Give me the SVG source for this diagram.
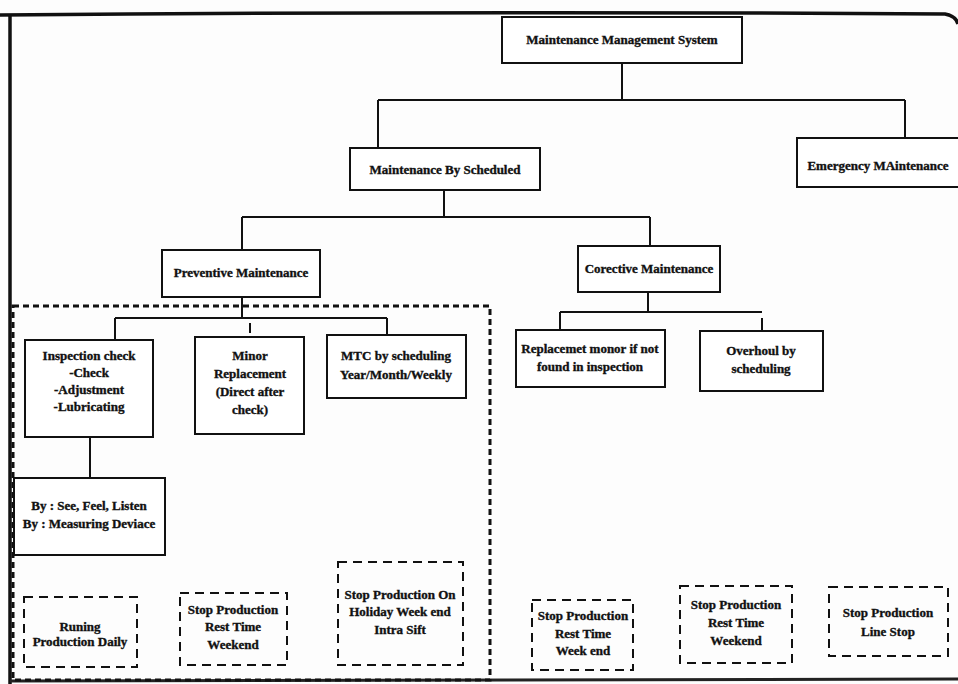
<svg xmlns="http://www.w3.org/2000/svg" width="958" height="684" viewBox="0 0 958 684">
  <style>
    .box { fill: #ffffff; stroke: #111111; stroke-width: 2; }
    .dbox { fill: none; stroke: #111111; stroke-width: 2; stroke-dasharray: 9 6; }
    .conn { fill: none; stroke: #111111; stroke-width: 2; }
    .frame { fill: none; stroke: #111111; stroke-width: 3.5; }
    text { font-family: "Liberation Serif", "Times New Roman", serif; font-weight: bold; font-size: 13px; fill: #111111; stroke: #111111; stroke-width: 0.35; text-anchor: middle; }
  </style>
  <rect x="0" y="0" width="958" height="684" fill="#fdfdfd"/>

  <!-- page frame -->
  <g id="frame">
    <path class="frame" d="M0 15 Q 480 11 945 14 Q 956 16 958 24"/>
    <path class="frame" d="M10 15 L10 684"/>
    <path d="M10 681 L958 679" stroke="#222" stroke-width="3"/>
  </g>

  <!-- dashed grouping of the preventive branch -->
  <rect id="preventive-group" x="13" y="306" width="477" height="374" fill="none" stroke="#111" stroke-width="3" stroke-dasharray="6 4"/>

  <g id="connectors">
    <path class="conn" d="M622 63 V100 M378 100 H905 M378 100 V148 M905 100 V138"/>
    <path class="conn" d="M444 190 V217 M242 217 H650 M242 217 V250 M650 217 V246"/>
    <path class="conn" d="M242 297 V318 M115 318 H387 M115 318 V340 M250 323 V333 M387 318 V335"/>
    <path class="conn" d="M90 437 V478"/>
    <path class="conn" d="M648 292 V312 M560 312 H762 M560 312 V330 M762 318 V331"/>
  </g>

  <g id="mms">
    <rect class="box" x="502" y="17" width="240" height="46"/>
    <text x="622" y="44">Maintenance Management System</text>
  </g>
  <g id="by-scheduled">
    <rect class="box" x="350" y="148" width="190" height="42"/>
    <text x="445" y="174">Maintenance By Scheduled</text>
  </g>
  <g id="emergency">
    <rect class="box" x="797" y="138" width="170" height="49"/>
    <text x="878" y="170">Emergency MAintenance</text>
  </g>
  <g id="preventive">
    <rect class="box" x="162" y="250" width="158" height="47"/>
    <text x="241" y="277">Preventive Maintenance</text>
  </g>
  <g id="corective">
    <rect class="box" x="578" y="246" width="142" height="46"/>
    <text x="649" y="273">Corective Maintenance</text>
  </g>
  <g id="inspection">
    <rect class="box" x="25" y="340" width="128" height="97"/>
    <text x="89" y="360">Inspection check</text>
    <text x="89" y="377">-Check</text>
    <text x="89" y="394">-Adjustment</text>
    <text x="89" y="411">-Lubricating</text>
  </g>
  <g id="minor">
    <rect class="box" x="195" y="337" width="109" height="97"/>
    <text x="250" y="360">Minor</text>
    <text x="250" y="378">Replacement</text>
    <text x="250" y="396">(Direct after</text>
    <text x="250" y="414">check)</text>
  </g>
  <g id="mtc">
    <rect class="box" x="327" y="335" width="139" height="63"/>
    <text x="396" y="360">MTC by scheduling</text>
    <text x="396" y="379">Year/Month/Weekly</text>
  </g>
  <g id="replacement">
    <rect class="box" x="516" y="330" width="149" height="57"/>
    <text x="590" y="353">Replacemet monor if not</text>
    <text x="590" y="371">found in inspection</text>
  </g>
  <g id="overhoul">
    <rect class="box" x="700" y="331" width="123" height="60"/>
    <text x="761" y="355">Overhoul by</text>
    <text x="761" y="373">scheduling</text>
  </g>
  <g id="by-methods">
    <rect class="box" x="14" y="478" width="151" height="77"/>
    <text x="89" y="510">By : See, Feel, Listen</text>
    <text x="89" y="528">By : Measuring Deviace</text>
  </g>

  <g id="running-daily">
    <rect class="dbox" x="24" y="597" width="113" height="70"/>
    <text x="80" y="631">Runing</text>
    <text x="80" y="646">Production Daily</text>
  </g>
  <g id="stop-rest-weekend-1">
    <rect class="dbox" x="180" y="593" width="107" height="72"/>
    <text x="233" y="614">Stop Production</text>
    <text x="233" y="631">Rest Time</text>
    <text x="233" y="649">Weekend</text>
  </g>
  <g id="stop-holiday">
    <rect class="dbox" x="338" y="562" width="125" height="103"/>
    <text x="400" y="599">Stop Production On</text>
    <text x="400" y="616">Holiday Week end</text>
    <text x="400" y="634">Intra Sift</text>
  </g>
  <g id="stop-rest-weekend-2">
    <rect class="dbox" x="532" y="600" width="101" height="70"/>
    <text x="583" y="620">Stop Production</text>
    <text x="583" y="638">Rest Time</text>
    <text x="583" y="655">Week end</text>
  </g>
  <g id="stop-rest-weekend-3">
    <rect class="dbox" x="680" y="586" width="112" height="77"/>
    <text x="736" y="609">Stop Production</text>
    <text x="736" y="627">Rest Time</text>
    <text x="736" y="645">Weekend</text>
  </g>
  <g id="stop-line">
    <rect class="dbox" x="829" y="587" width="119" height="69"/>
    <text x="888" y="617">Stop Production</text>
    <text x="888" y="636">Line Stop</text>
  </g>
</svg>
